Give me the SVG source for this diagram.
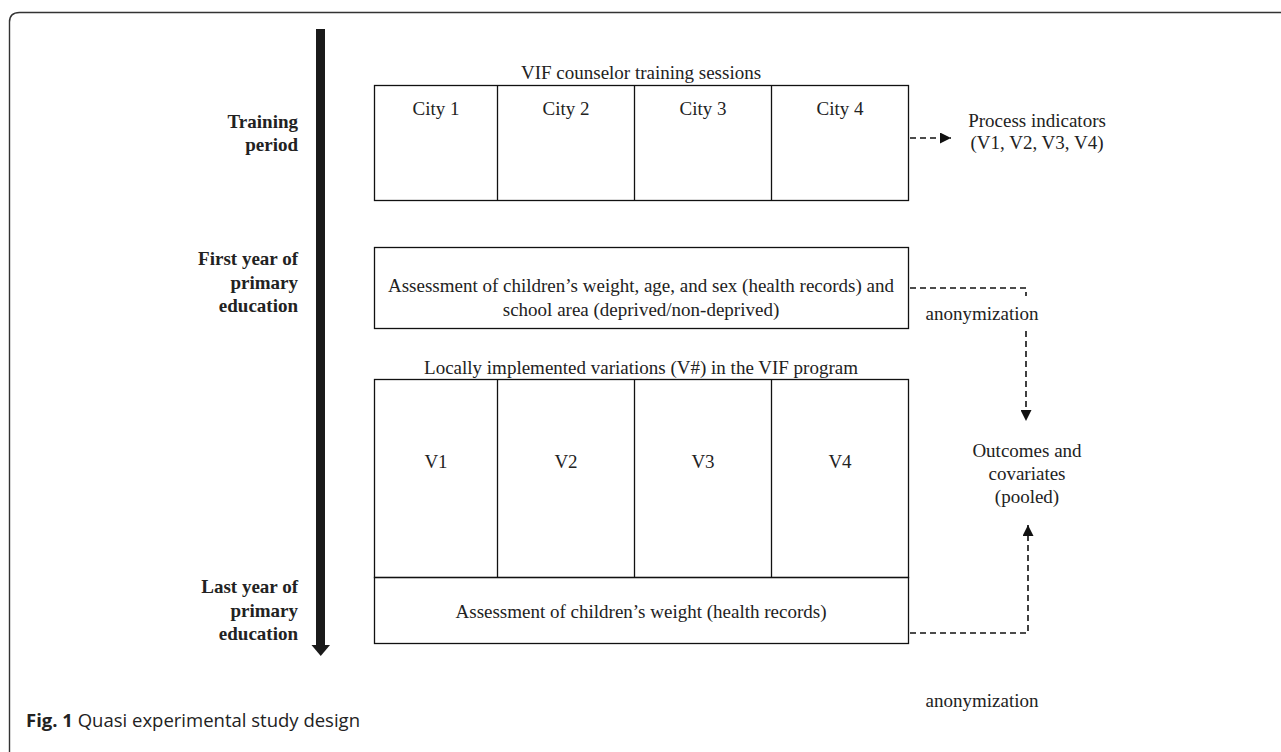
<svg xmlns="http://www.w3.org/2000/svg" width="1281" height="752" viewBox="0 0 1281 752">
<style>
.t{font-family:"Liberation Serif","Times New Roman",serif;font-size:19px;fill:#222}
.c{text-anchor:middle}
.b{font-weight:bold;text-anchor:end}
.box{fill:none;stroke:#111;stroke-width:1.3}
.dash{fill:none;stroke:#111;stroke-width:1.6;stroke-dasharray:6 4}
.cap{font-family:"Open Sans","Liberation Sans",sans-serif;font-size:18.5px;fill:#222}
</style>
<defs>
<marker id="ah" viewBox="0 0 10 10" refX="10" refY="5" markerWidth="11" markerHeight="11" markerUnits="userSpaceOnUse" orient="auto">
<path d="M0,0 L10,5 L0,10 Z" fill="#111"/>
</marker>
</defs>
<rect width="1281" height="752" fill="#fff"/>
<path d="M9.5,760 L9.5,22 Q9.5,12.5 19.5,12.5 L1290,12.5" fill="none" stroke="#333" stroke-width="1.4"/>

<g id="timeline">
<rect x="316" y="29" width="9" height="618" fill="#1a1a1a"/>
<path d="M311.5,645 L330,645 L320.75,656 Z" fill="#1a1a1a"/>
</g>

<g id="labels">
<text class="t b" x="298" y="128">Training</text>
<text class="t b" x="298" y="151">period</text>
<text class="t b" x="298" y="265">First year of</text>
<text class="t b" x="298" y="289">primary</text>
<text class="t b" x="298" y="312">education</text>
<text class="t b" x="298" y="593">Last year of</text>
<text class="t b" x="298" y="617">primary</text>
<text class="t b" x="298" y="640">education</text>
</g>

<g id="training">
<text class="t c" x="641" y="79">VIF counselor training sessions</text>
<rect class="box" x="374.5" y="85.5" width="534" height="115"/>
<line class="box" x1="497.5" y1="85.5" x2="497.5" y2="200.5"/>
<line class="box" x1="634.5" y1="85.5" x2="634.5" y2="200.5"/>
<line class="box" x1="771.5" y1="85.5" x2="771.5" y2="200.5"/>
<text class="t c" x="436" y="115">City 1</text>
<text class="t c" x="566" y="115">City 2</text>
<text class="t c" x="703" y="115">City 3</text>
<text class="t c" x="840" y="115">City 4</text>
</g>

<g id="first-assessment">
<rect class="box" x="374.5" y="247.5" width="534" height="81"/>
<text class="t c" x="641" y="292">Assessment of children’s weight, age, and sex (health records) and</text>
<text class="t c" x="641" y="316">school area (deprived/non-deprived)</text>
</g>

<g id="variations">
<text class="t c" x="641" y="374">Locally implemented variations (V#) in the VIF program</text>
<rect class="box" x="374.5" y="379.5" width="534" height="198"/>
<line class="box" x1="497.5" y1="379.5" x2="497.5" y2="577.5"/>
<line class="box" x1="634.5" y1="379.5" x2="634.5" y2="577.5"/>
<line class="box" x1="771.5" y1="379.5" x2="771.5" y2="577.5"/>
<text class="t c" x="436" y="468">V1</text>
<text class="t c" x="566" y="468">V2</text>
<text class="t c" x="703" y="468">V3</text>
<text class="t c" x="840" y="468">V4</text>
</g>

<g id="last-assessment">
<rect class="box" x="374.5" y="577.5" width="534" height="66"/>
<text class="t c" x="641" y="618">Assessment of children’s weight (health records)</text>
</g>

<g id="process-indicators">
<text class="t c" x="1037" y="127">Process indicators</text>
<text class="t c" x="1037" y="149">(V1, V2, V3, V4)</text>
</g>

<g id="outcomes">
<text class="t c" x="1027" y="457">Outcomes and</text>
<text class="t c" x="1027" y="480">covariates</text>
<text class="t c" x="1027" y="503">(pooled)</text>
</g>

<g id="connectors">
<line class="dash" x1="910" y1="138" x2="951" y2="138" marker-end="url(#ah)"/>
<path class="dash" d="M910,288 L1026,288 L1026,296"/>
<line class="dash" x1="1026" y1="331" x2="1026" y2="421" marker-end="url(#ah)"/>
<text class="t c" x="982" y="320">anonymization</text>
<path class="dash" d="M910,633 L1028,633 L1028,525" marker-end="url(#ah)"/>
</g>

<text class="t c" x="982" y="707">anonymization</text>

<text class="cap" x="26" y="727"><tspan font-weight="bold">Fig. 1</tspan> Quasi experimental study design</text>
</svg>
